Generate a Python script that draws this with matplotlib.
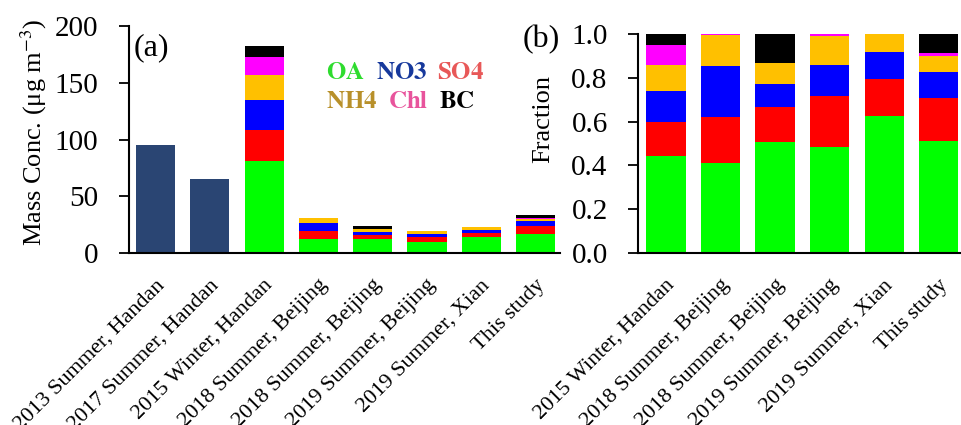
import matplotlib
matplotlib.use("Agg")
import matplotlib.pyplot as plt
import matplotlib.transforms as mtransforms
import numpy as np

plt.rcParams['font.family'] = ['Liberation Serif', 'DejaVu Serif']
plt.rcParams['mathtext.fontset'] = 'stix'

# ---- data ----
left_labels = ["2013 Summer, Handan", "2017 Summer, Handan", "2015 Winter, Handan",
               "2018 Summer, Beijing", "2018 Summer, Beijing", "2019 Summer, Beijing",
               "2019 Summer, Xian", "This study"]
pm_total_only = [95.6, 64.9]          # first two studies (total only)
species = ["OA", "SO4", "NO3", "NH4", "Chl", "BC"]
mass_OA  = [81.0, 12.7, 12.4, 9.6, 14.2, 17.3]
mass_SO4 = [27.5, 6.5, 3.9, 4.8, 3.8, 6.6]
mass_NO3 = [26.5, 7.5, 2.5, 2.6, 2.9, 4.1]
mass_NH4 = [21.3, 4.5, 2.2, 2.7, 1.8, 2.5]
mass_Chl = [16.3, 0.2, 0.1, 0.2, 0.1, 0.4]
mass_BC  = [9.3, 0.0, 3.3, 0.1, 0.0, 3.0]

right_labels = ["2015 Winter, Handan", "2018 Summer, Beijing", "2018 Summer, Beijing",
                "2019 Summer, Beijing", "2019 Summer, Xian", "This study"]
frac_OA  = [0.444, 0.410, 0.508, 0.485, 0.624, 0.513]
frac_SO4 = [0.155, 0.209, 0.160, 0.231, 0.170, 0.194]
frac_NO3 = [0.141, 0.235, 0.104, 0.143, 0.124, 0.119]
frac_NH4 = [0.119, 0.141, 0.093, 0.132, 0.079, 0.074]
frac_Chl = [0.088, 0.005, 0.002, 0.006, 0.003, 0.012]
frac_BC  = [0.053, 0.000, 0.133, 0.003, 0.000, 0.088]

colors = {"OA": "#00ff00", "SO4": "#ff0000", "NO3": "#0000ff",
          "NH4": "#ffc000", "Chl": "#ff00ff", "BC": "#000000"}
navy = "#2a4573"

fig = plt.figure(figsize=(9.61, 4.25), dpi=100)
axL = fig.add_axes([0.1342, 0.404, 0.4485, 0.5355])
axR = fig.add_axes([0.6642, 0.404, 0.3358, 0.5167])

W = 0.72
# left panel
xL = np.arange(len(left_labels))
axL.bar(xL[:2], pm_total_only, width=W, color=navy)
mass = [mass_OA, mass_SO4, mass_NO3, mass_NH4, mass_Chl, mass_BC]
bottom = np.zeros(len(mass_OA))
for sp, vals in zip(species, mass):
    axL.bar(xL[2:], vals, width=W, bottom=bottom, color=colors[sp])
    bottom += np.array(vals)
axL.set_ylim(0, 200)
axL.set_xlim(-0.49, 7.45)
axL.set_yticks([0, 50, 100, 150, 200])
axL.set_ylabel("Mass Conc. (μg m$^{-3}$)", fontsize=19)
axL.yaxis.set_label_coords(-0.185, 0.53)

# right panel
xR = np.arange(len(right_labels))
fracs = [frac_OA, frac_SO4, frac_NO3, frac_NH4, frac_Chl, frac_BC]
bottom = np.zeros(len(frac_OA))
for sp, vals in zip(species, fracs):
    axR.bar(xR, vals, width=W, bottom=bottom, color=colors[sp])
    bottom += np.array(vals)
axR.set_ylim(0, 1.0)
axR.set_xlim(-0.51, 5.41)
axR.set_yticks([0, 0.2, 0.4, 0.6, 0.8, 1.0])
axR.set_yticklabels(["0.0", "0.2", "0.4", "0.6", "0.8", "1.0"])
axR.set_ylabel("Fraction", fontsize=19)
axR.yaxis.set_label_coords(-0.262, 0.61)

offset = mtransforms.ScaledTranslation(6 / 100, 0, fig.dpi_scale_trans)
for ax, x, labs in [(axL, xL, left_labels), (axR, xR, right_labels)]:
    for s in ["top", "right"]:
        ax.spines[s].set_visible(False)
    for s in ["left", "bottom"]:
        ax.spines[s].set_linewidth(1.5)
    ax.tick_params(axis='y', length=7, width=1.3, labelsize=21, pad=15)
    ax.tick_params(axis='x', length=0, pad=21)
    ax.set_xticks(x)
    ax.set_xticklabels(labs, rotation=45, ha='right', va='center',
                       rotation_mode='anchor', fontsize=16)
    for t in ax.get_xticklabels():
        t.set_transform(t.get_transform() + offset)

axL.text(0.01, 0.965, "(a)", transform=axL.transAxes, fontsize=23, va='top', ha='left')
fig.text(523 / 961, 1 - 25 / 425, "(b)", fontsize=23, va='top', ha='left')

# legend-like colored labels (bold serif via STIX mathtext)
leg_items = [("OA", "#2edc2e", 326, 73), ("NO3", "#17399c", 376, 73), ("SO4", "#e85858", 437, 73),
             ("NH4", "#b8902a", 326, 102), ("Chl", "#e8549c", 388, 102), ("BC", "#000000", 439, 102)]
for txt, c, px, py in leg_items:
    fig.text(px / 961, 1 - py / 425, r"$\mathbf{" + txt + "}$", color=c, fontsize=18,
             ha='left', va='center')

fig.savefig("out.png", dpi=100)
